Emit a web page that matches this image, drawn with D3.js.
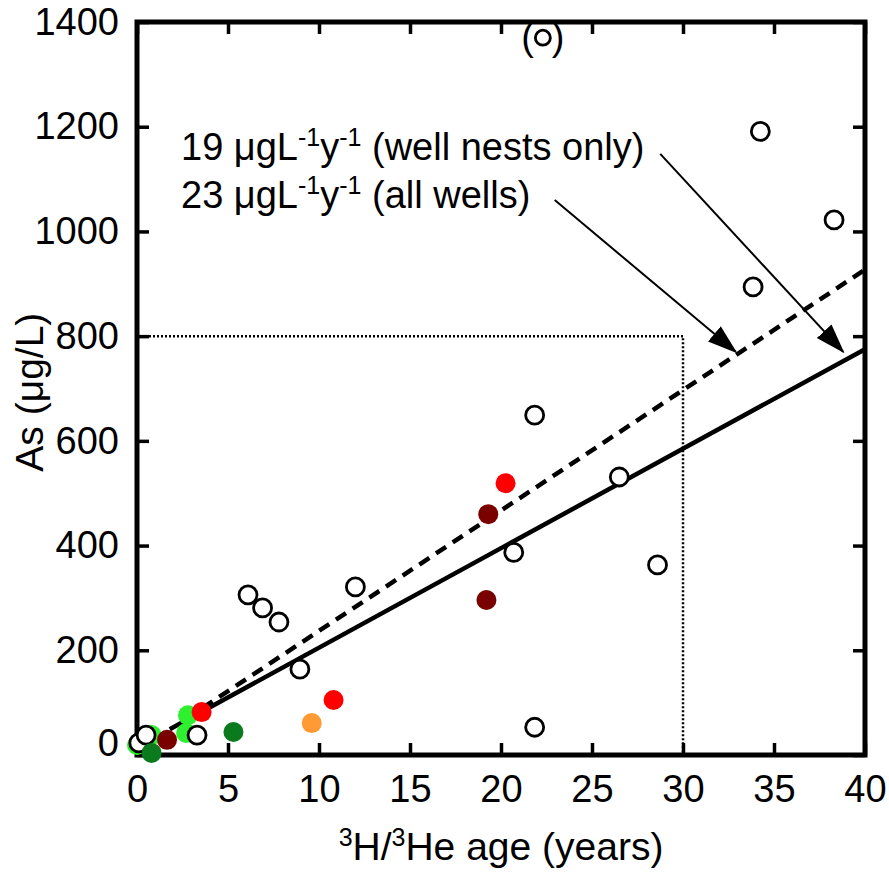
<!DOCTYPE html>
<html>
<head>
<meta charset="utf-8">
<script src="https://cdn.jsdelivr.net/npm/d3@7"></script>
<style>
  body { margin: 0; background: #fff; }
  text { font-family: "Liberation Sans", Arial, sans-serif; fill: #000; }
</style>
</head>
<body>
<div id="vis"></div>
<script>
// ----------------
// 1. Data
// ----------------
const xTicks = [0, 5, 10, 15, 20, 25, 30, 35, 40];
const yTicks = [0, 200, 400, 600, 800, 1000, 1200, 1400];

// [age (years), As (ug/L)]
const brightGreenWells = [[0.0, 19], [0.8, 38], [2.7, 42], [2.8, 76]];
const openWells = [
    [0.1, 23], [0.5, 38], [3.3, 38], [6.1, 306], [6.9, 281], [7.8, 254],
    [8.95, 164], [12.0, 321], [20.7, 387], [21.85, 649], [21.85, 53],
    [26.5, 531], [28.6, 363], [33.85, 894], [34.25, 1191], [38.3, 1022]
];
const outlierWells = [[22.3, 1370]];
const darkGreenWells = [[0.8, 4], [5.3, 44]];
const darkRedWells = [[1.65, 29], [19.2, 296], [19.3, 460]];
const redWells = [[3.55, 82], [10.8, 105], [20.25, 519]];
const orangeWells = [[9.6, 61]];

// regression lines: slope (ug/L/y), intercept, start age
const fitNests = {slope: 19, intercept: 15, start: 1.8};
const fitAll = {slope: 23, intercept: 7, start: 3.6};

// guide: 800 ug/L reached at 30 years
const guideAge = 30;
const guideAs = 800;

// ----------------
// 2. Dimensions
// ----------------
const dimensions = {
    width: 889,
    height: 872,
    margin: {top: 22, right: 24, bottom: 117, left: 137},
    radius: 10
};
dimensions.boundedWidth = dimensions.width - dimensions.margin.left - dimensions.margin.right;
dimensions.boundedHeight = dimensions.height - dimensions.margin.top - dimensions.margin.bottom;

const svg = d3.select("#vis")
    .append("svg")
    .attr("width", dimensions.width)
    .attr("height", dimensions.height);

const defs = svg.append("defs");
defs.append("marker")
    .attr("id", "head")
    .attr("markerUnits", "userSpaceOnUse")
    .attr("viewBox", "0 -11 30 22")
    .attr("markerWidth", 30)
    .attr("markerHeight", 22)
    .attr("refX", 28)
    .attr("refY", 0)
    .attr("orient", "auto")
    .append("path")
    .attr("d", "M0,-10L30,0L0,10Z")
    .attr("fill", "#000");

const g = svg.append("g")
    .attr("transform", `translate(${dimensions.margin.left}, ${dimensions.margin.top})`);

// ----------------
// 3. Scales
// ----------------
const xScale = d3.scaleLinear().domain([0, 40]).range([0, dimensions.boundedWidth]);
const yScale = d3.scaleLinear().domain([0, 1400]).range([dimensions.boundedHeight, 0]);

// ----------------
// 4. Axes
// ----------------
const tickLen = 12;
const styleAxis = sel => {
    sel.select(".domain").remove();
    sel.selectAll(".tick line").attr("stroke", "#000").attr("stroke-width", 3.5);
    sel.selectAll(".tick text").style("font-size", "38px").attr("fill", "#000");
};

g.append("g")
    .attr("transform", `translate(0, ${dimensions.boundedHeight})`)
    .call(d3.axisBottom(xScale).tickValues(xTicks).tickFormat(d3.format("d"))
        .tickSizeInner(-tickLen).tickSizeOuter(0).tickPadding(20))
    .call(styleAxis);

g.append("g")
    .call(d3.axisTop(xScale).tickValues(xTicks).tickSizeInner(-tickLen).tickSizeOuter(0).tickFormat(""))
    .call(styleAxis);

const yAxis = g.append("g")
    .call(d3.axisLeft(yScale).tickValues(yTicks).tickFormat(d3.format("d"))
        .tickSizeInner(-tickLen).tickSizeOuter(0).tickPadding(18))
    .call(styleAxis);
yAxis.selectAll(".tick text").filter(d => d === 0).attr("dy", "0.0em");

g.append("g")
    .attr("transform", `translate(${dimensions.boundedWidth}, 0)`)
    .call(d3.axisRight(yScale).tickValues(yTicks).tickSizeInner(-tickLen).tickSizeOuter(0).tickFormat(""))
    .call(styleAxis);

g.append("rect")
    .attr("width", dimensions.boundedWidth)
    .attr("height", dimensions.boundedHeight)
    .attr("fill", "none")
    .attr("stroke", "#000")
    .attr("stroke-width", 5);

// axis titles
svg.append("text")
    .attr("x", dimensions.margin.left + dimensions.boundedWidth / 2)
    .attr("y", 860)
    .attr("text-anchor", "middle")
    .style("font-size", "39px")
    .html('<tspan dy="-14" style="font-size:25px">3</tspan><tspan dy="14">H/</tspan><tspan dy="-14" style="font-size:25px">3</tspan><tspan dy="14">He age (years)</tspan>');

svg.append("text")
    .attr("transform", `translate(43, ${dimensions.margin.top + dimensions.boundedHeight * 0.505}) rotate(-90)`)
    .attr("text-anchor", "middle")
    .style("font-size", "39px")
    .text("As (\u03bcg/L)");

// ----------------
// 5. Guide, fits, annotations
// ----------------
g.append("path")
    .attr("d", d3.line()([
        [xScale(0), yScale(guideAs)],
        [xScale(guideAge), yScale(guideAs)],
        [xScale(guideAge), yScale(0)]
    ]))
    .attr("fill", "none")
    .attr("stroke", "#000")
    .attr("stroke-width", 2.5)
    .attr("stroke-dasharray", "2,2");

const fitLine = (fit) => d3.line()([
    [xScale(fit.start), yScale(fit.slope * fit.start + fit.intercept)],
    [xScale(40), yScale(fit.slope * 40 + fit.intercept)]
]);

g.append("path")
    .attr("d", fitLine(fitAll))
    .attr("stroke", "#000")
    .attr("stroke-width", 4.5)
    .attr("stroke-dasharray", "12,8");

g.append("path")
    .attr("d", fitLine(fitNests))
    .attr("stroke", "#000")
    .attr("stroke-width", 4.5);

// labels: rate, description, baseline (px), arrow from / to (data units)
const labelRates = [fitNests.slope, fitAll.slope];
const labelNotes = ["(well nests only)", "(all wells)"];
const labelBaselines = [160, 208];
const arrowFrom = [[28.75, 1148], [22.95, 1060]];
const arrowTo = [[38.8, 770], [32.9, 770]];

labelRates.forEach((rate, i) => {
    svg.append("text")
        .attr("x", 181)
        .attr("y", labelBaselines[i])
        .style("font-size", "38px")
        .html(`${rate} \u03bcgL<tspan dy="-14" style="font-size:25px">-1</tspan><tspan dy="14">y</tspan><tspan dy="-14" style="font-size:25px">-1</tspan><tspan dy="14"> ${labelNotes[i]}</tspan>`);

    g.append("line")
        .attr("x1", xScale(arrowFrom[i][0]))
        .attr("y1", yScale(arrowFrom[i][1]))
        .attr("x2", xScale(arrowTo[i][0]))
        .attr("y2", yScale(arrowTo[i][1]))
        .attr("stroke", "#000")
        .attr("stroke-width", 2)
        .attr("marker-end", "url(#head)");
});

// ----------------
// 6. Points
// ----------------
const drawPoints = (data, fill, stroke, r) => {
    g.append("g")
        .selectAll("circle")
        .data(data)
        .join("circle")
        .attr("cx", d => xScale(d[0]))
        .attr("cy", d => yScale(d[1]))
        .attr("r", r || (stroke ? dimensions.radius - 1 : dimensions.radius))
        .attr("fill", fill)
        .attr("stroke", stroke || "none")
        .attr("stroke-width", 2.8);
};

drawPoints(brightGreenWells, "#2ef02e");
drawPoints(openWells, "#fff", "#000");
drawPoints(outlierWells, "#fff", "#000", 7.5);
drawPoints(darkGreenWells, "#0b7a1c");
drawPoints(darkRedWells, "#7a0000");
drawPoints(redWells, "#ff0000");
drawPoints(orangeWells, "#ff9a35");

// parentheses around the outlier
const parens = g.append("g").selectAll("g")
    .data(outlierWells)
    .join("g")
    .attr("transform", d => `translate(${xScale(d[0])}, ${yScale(d[1]) + 12})`);
parens.append("text")
    .attr("x", -9)
    .attr("text-anchor", "end")
    .style("font-size", "38px")
    .text("(");
parens.append("text")
    .attr("x", 9)
    .attr("text-anchor", "start")
    .style("font-size", "38px")
    .text(")");
</script>
</body>
</html>
